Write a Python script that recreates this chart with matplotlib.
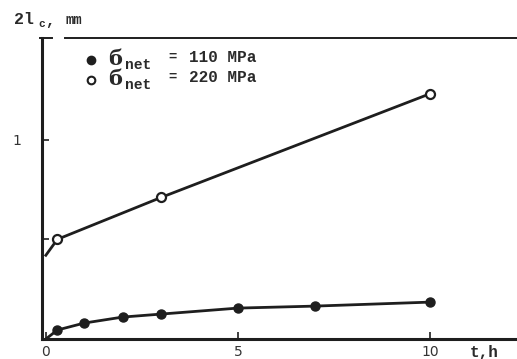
import matplotlib
matplotlib.use("Agg")
import matplotlib.pyplot as plt
from matplotlib.lines import Line2D

# data
t_110 = [0.0, 0.3, 1.0, 2.0, 3.0, 5.0, 7.0, 10.0]
l_110 = [0.0, 0.045, 0.08, 0.11, 0.125, 0.155, 0.165, 0.185]
t_110_pts = [0.3, 1.0, 2.0, 3.0, 5.0, 7.0, 10.0]
l_110_pts = [0.045, 0.08, 0.11, 0.125, 0.155, 0.165, 0.185]

t_220 = [0.0, 0.3, 3.0, 10.0]
l_220 = [0.42, 0.50, 0.71, 1.23]
t_220_pts = [0.3, 3.0, 10.0]
l_220_pts = [0.50, 0.71, 1.23]

xticks = [0, 5, 10]
xtick_labels = ["0", "5", "10"]
yticks = [0.5, 1.0]
ytick_labels = ["", "1"]

W, H = 517, 359
fig = plt.figure(figsize=(W / 100, H / 100), dpi=100)
ax = fig.add_axes([42 / W, (H - 339) / H, (W - 42) / W, (339 - 38) / H])

ink = "#1e1e1e"
ax.plot(t_110, l_110, color=ink, lw=2.0, zorder=2)
ax.plot(t_110_pts, l_110_pts, 'o', color=ink, ms=6.5, zorder=3)
ax.plot(t_220, l_220, color=ink, lw=2.0, zorder=2)
ax.plot(t_220_pts, l_220_pts, 'o', mfc="white", mec=ink, mew=1.6, ms=6.5, zorder=3)

ax.set_xlim(-0.1, 12.27)
ax.set_ylim(0, 1.51)

ax.spines["right"].set_visible(False)
ax.spines["top"].set_visible(False)
ax.spines["left"].set_linewidth(2.2)
ax.spines["bottom"].set_linewidth(2.2)
for s in ax.spines.values():
    s.set_color(ink)

# top frame line (with the small gap near the corner as in the original)
for x0, x1 in [(40, 52), (65, 517)]:
    fig.lines.append(Line2D([x0 / W, x1 / W], [1 - 38 / H, 1 - 38 / H], color=ink, lw=1.4,
                            transform=fig.transFigure, figure=fig))

ax.set_xticks(xticks)
ax.set_xticklabels(xtick_labels)
ax.set_yticks(yticks)
ax.set_yticklabels(ytick_labels)
ax.tick_params(axis="both", direction="in", length=5, width=1.2, color=ink,
               labelsize=10, labelcolor="#333333")
ax.tick_params(axis="y", pad=15)
ax.tick_params(axis="x", pad=4)

mono = dict(family="Liberation Mono", weight="bold", color="#2a2a2a")

def ftext(x, y, s, size=8, **kw):
    opts = {**mono, **kw}
    fig.text(x / W, 1 - y / H, s, fontsize=size, va="center", ha="left", **opts)

# y label
ftext(14, 20, "2l", size=12)
ftext(38, 24, "c", size=8)
ftext(45, 21, ",", size=11)
ftext(66, 20, "mm", size=10)

# x label
ftext(470, 352, "t,h", size=11.5)

# legend
for row, (lab, filled) in enumerate([("110 MPa", True), ("220 MPa", False)]):
    y = 60 + row * 20
    fig.lines.append(Line2D([91 / W], [1 - y / H], marker='o', ms=5.5,
                            mfc=ink if filled else "white", mec=ink, mew=1.5,
                            transform=fig.transFigure, figure=fig))
    ftext(108, y - 1, "б", size=15, family="DejaVu Serif", weight="bold")
    ftext(125, y + 5, "net", size=10.5)
    ftext(168, y - 3, "=", size=10)
    ftext(189, y - 3, lab, size=11.5)

fig.savefig("out.png", dpi=100)
